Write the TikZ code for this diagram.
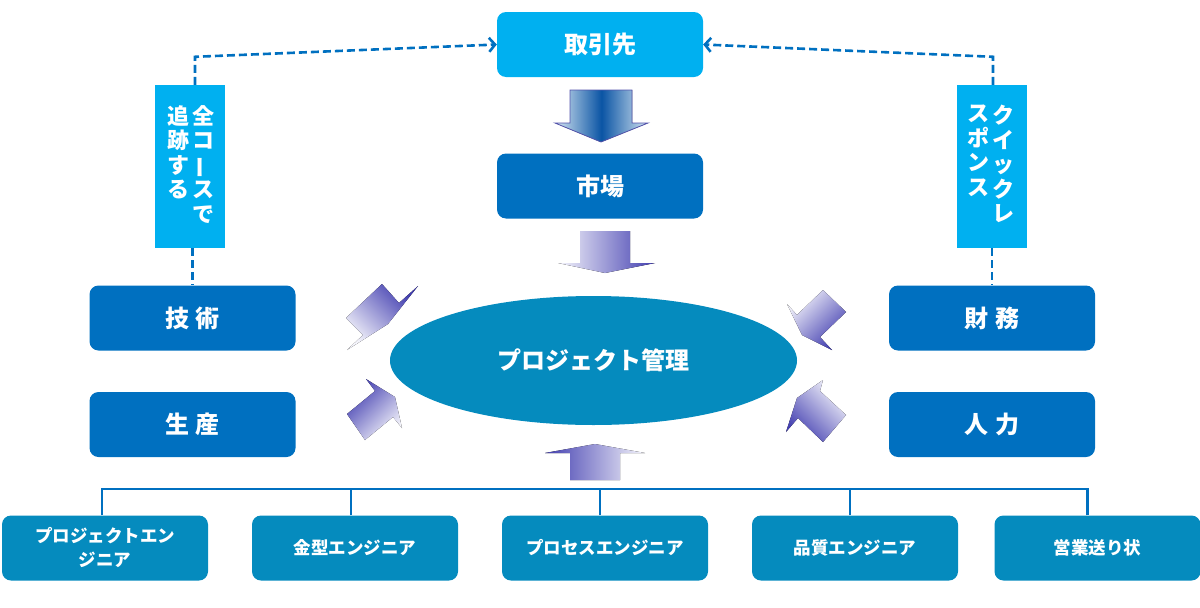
\documentclass[tikz,border=0pt]{standalone}
\usepackage{fontspec}
\newfontfamily\cjk{Noto Sans CJK JP}
\usetikzlibrary{shapes.geometric,arrows.meta,positioning}
\definecolor{skyfill}{HTML}{00B0F0}
\definecolor{navyfill}{HTML}{0070C0}
\definecolor{tealfill}{HTML}{058BBE}
\definecolor{barline}{HTML}{0070C0}
\definecolor{arrowdark}{RGB}{66,62,176}
\definecolor{arrowlite}{RGB}{244,244,251}
\definecolor{arrowedge}{RGB}{84,84,172}
\definecolor{shaftlite}{RGB}{214,230,242}
\definecolor{shaftdark}{RGB}{10,84,164}
\newcommand{\jpbig}{\cjk\bfseries\fontsize{24}{27}\selectfont}
\newcommand{\jpside}{\cjk\bfseries\fontsize{22}{24.5}\selectfont}
\newcommand{\jpsmall}{\cjk\bfseries\fontsize{17.5}{24}\selectfont}

\begin{document}
\begin{tikzpicture}[x=1pt, y=-1pt,
  every node/.style={font=\jpbig, text=white, inner sep=0pt},
  box/.style={rounded corners=9pt, minimum width=206pt, minimum height=65pt},
  skybox/.style={box, fill=skyfill},
  navybox/.style={box, fill=navyfill},
  tealbox/.style={box, fill=tealfill, font=\jpsmall, align=center},
  sidebar/.style={fill=skyfill, minimum width=70pt, minimum height=163pt},
  sidetext/.style={font=\jpside, align=center, anchor=north},
  dashline/.style={draw=barline, line width=2.6pt, dash pattern=on 8pt off 4pt},
  treeline/.style={draw=barline, line width=2.5pt},
  blockarrow/.style={top color=arrowdark, bottom color=arrowlite}]
  \useasboundingbox (0,0) rectangle (1200,608);

  % top of the chain
  \node[skybox] (client) at (600,44.5) {取引先};
  \node[navybox] (market) at (600,186) {市場};
  \node[ellipse, fill=tealfill, minimum width=407pt, minimum height=129pt] (pm) at (593.5,360.5) {プロジェクト管理};

  % left and right blocks
  \node[navybox] (tech) at (192.5,318) {技\hspace{7pt}術};
  \node[navybox] (prod) at (192.5,424.5) {生\hspace{7pt}産};
  \node[navybox] (fin) at (992,318) {財\hspace{7pt}務};
  \node[navybox] (hr) at (992,424.5) {人\hspace{7pt}力};

  % side bars with upright columns
  \node[sidebar] (trackbar) at (190,166.5) {};
  \node[sidetext] (trackA) at (203,105) {全\\コ\\\rotatebox[origin=c]{90}{ー}\\ス\\で};
  \node[sidetext] (trackB) at (178,105) {追\\跡\\す\\る};
  \node[sidebar] (quickbar) at (992,166.5) {};
  \node[sidetext] (quickA) at (1003,105) {ク\\イ\\ッ\\ク\\レ};
  \node[sidetext] (quickB) at (978,105) {ス\\ポ\\ン\\ス};

  % dashed links
  \draw[dashline, -{Straight Barb[length=6pt,width=14pt]}] ([xshift=5pt]trackbar.north) -- ++(0,-28) -- (client.west);
  \draw[dashline, -{Straight Barb[length=6pt,width=14pt]}] ([xshift=1pt]quickbar.north) -- ++(0,-28) -- (client.east);
  \draw[dashline] (trackbar.south -| tech.north) -- (tech.north);
  \draw[dashline] (quickbar.south -| fin.north) -- (fin.north);

  % block arrows
  \filldraw[draw=arrowedge, line width=0.8pt, left color=shaftlite, right color=shaftlite, middle color=shaftdark]
    (570,90) -- (632,90) -- (632,123) -- (648,123) -- (601,142) -- (555,123) -- (570,123) -- cycle;
  \fill[blockarrow, shading angle=-90] (580,231) -- (630,231) -- (630,263) -- (655,263) -- (605,273) -- (558,263) -- (580,263) -- cycle;
  \fill[blockarrow, shading angle=90] (570,480) -- (570,453) -- (545,453) -- (595,444) -- (645,453) -- (620,453) -- (620,480) -- cycle;
  \fill[blockarrow, shading angle=-45] (382,284) -- (399,303) -- (418,286) -- (388,324) -- (347,350) -- (363,335) -- (346,318) -- cycle;
  \fill[blockarrow, shading angle=45] (347,414) -- (375,391) -- (366,379) -- (395,397) -- (402,428) -- (393,417) -- (365,440) -- cycle;
  \fill[blockarrow, shading angle=-135] (823,290) -- (846,312) -- (820,337) -- (832,350) -- (802,335) -- (787,304) -- (797,315) -- cycle;
  \fill[blockarrow, shading angle=135] (846,415) -- (820,391) -- (823,380) -- (797,398) -- (786,432) -- (798,418) -- (823,442) -- cycle;

  % engineers row
  \node[tealbox] (eng1) at (105,548) {プロジェクトエン\\ジニア};
  \node[tealbox] (eng2) at (355,548) {金型エンジニア};
  \node[tealbox] (eng3) at (605,548) {プロセスエンジニア};
  \node[tealbox] (eng4) at (855,548) {品質エンジニア};
  \node[tealbox] (eng5) at (1097.5,548) {営業送り状};

  \coordinate (bus) at (0,489);
  \draw[treeline] ([xshift=-4pt]eng1.north |- bus) -- ([xshift=-9pt]eng5.north |- bus);
  \foreach \n/\dx in {1/-3,2/-4,3/-5,4/-5,5/-10}
    \draw[treeline] ([xshift=\dx pt]eng\n.north) -- ([xshift=\dx pt]eng\n.north |- bus);
\end{tikzpicture}
\end{document}
